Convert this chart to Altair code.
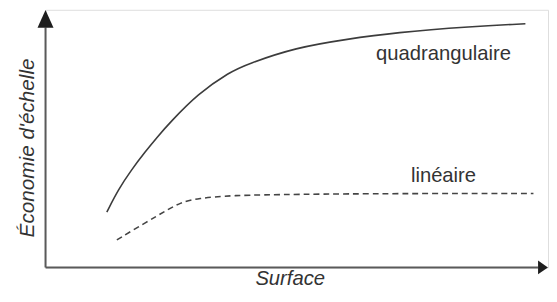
import altair as alt
import pandas as pd

# Curve values (surface 0-100, economy 0-100)
quad_x = [12.2, 14.5, 17.1, 19.8, 22.4, 24.8, 30.3, 36.7, 40.1, 49.9, 59.7, 69.6, 84.9, 95.5]
quad_y = [21.5, 30.3, 37.9, 44.8, 51.0, 56.3, 67.4, 75.9, 78.9, 85.4, 88.5, 91.2, 93.5, 94.6]
lin_x = [14.2, 20.4, 23.8, 26.9, 30.3, 36.7, 49.9, 69.6, 97.1]
lin_y = [10.7, 18.0, 21.8, 25.3, 26.8, 28.0, 28.4, 28.7, 28.7]

labels = ["quadrangulaire", "linéaire"]
label_x = [79.2, 79.2]
label_y = [80.5, 33.0]

x_title = "Surface"
y_title = "Économie d'échelle"

FONT = "Liberation Sans"
INK = "#333333"
AXIS = "#5a5a5a"

xs = alt.Scale(domain=[0, 100], nice=False, zero=False)
ys = alt.Scale(domain=[0, 100], nice=False, zero=False)

quad = pd.DataFrame({"x": quad_x, "y": quad_y})
lin = pd.DataFrame({"x": lin_x, "y": lin_y})
lab = pd.DataFrame({"x": label_x, "y": label_y, "t": labels})

axes_df = pd.DataFrame({"x": [0, 0], "y": [0, 0], "x2": [98.0, 0], "y2": [0, 93.1]})
arrows = pd.DataFrame({
    "x": [99.0, 0],
    "y": [0, 96.5],
    "shape": ["M1,0L-1,-1.4L-1,1.4Z", "M0,-1L0.9,1L-0.9,1Z"],
    "size": [100, 324],
})

X = lambda f: alt.X(f, type="quantitative", scale=xs, axis=None)
Y = lambda f: alt.Y(f, type="quantitative", scale=ys, axis=None)

axes = alt.Chart(axes_df).mark_rule(color=AXIS, strokeWidth=2).encode(
    x=X("x"), y=Y("y"), x2="x2", y2="y2"
)
heads = alt.Chart(arrows).mark_point(filled=True, color="#1e1e1e", opacity=1).encode(
    x=X("x"), y=Y("y"),
    shape=alt.Shape("shape:N", scale=None),
    size=alt.Size("size:Q", scale=None),
)

l_quad = alt.Chart(quad).mark_line(color="#3c3c3c", strokeWidth=1.6, interpolate="basis").encode(
    x=X("x"), y=Y("y")
)
l_lin = alt.Chart(lin).mark_line(color="#444444", strokeWidth=1.6, strokeDash=[6, 4],
                                 interpolate="basis").encode(x=X("x"), y=Y("y"))

txt = alt.Chart(lab).mark_text(font=FONT, fontSize=20.5, color=INK, align="center",
                               baseline="alphabetic").encode(
    x=X("x"), y=Y("y"), text="t:N"
)

xt = alt.Chart(pd.DataFrame({"x": [48.7], "y": [-7.0], "t": [x_title]})).mark_text(
    font=FONT, fontSize=20.5, fontStyle="italic", color=INK, align="center", baseline="alphabetic"
).encode(x=X("x"), y=Y("y"), text="t:N")

yt = alt.Chart(pd.DataFrame({"x": [-2.2], "y": [46.4], "t": [y_title]})).mark_text(
    font=FONT, fontSize=21, fontStyle="italic", color=INK, align="center", baseline="alphabetic",
    angle=270
).encode(x=X("x"), y=Y("y"), text="t:N")

chart = alt.layer(axes, l_quad, l_lin, txt, xt, yt, heads).properties(
    width=509, height=261,
    autosize=alt.AutoSizeParams(type="none"),
    padding={"left": 38, "top": 0, "right": 1, "bottom": 20},
).configure_view(stroke=None).configure(background="white")

chart.save("out.html", embed_options={"renderer": "svg", "actions": False})
